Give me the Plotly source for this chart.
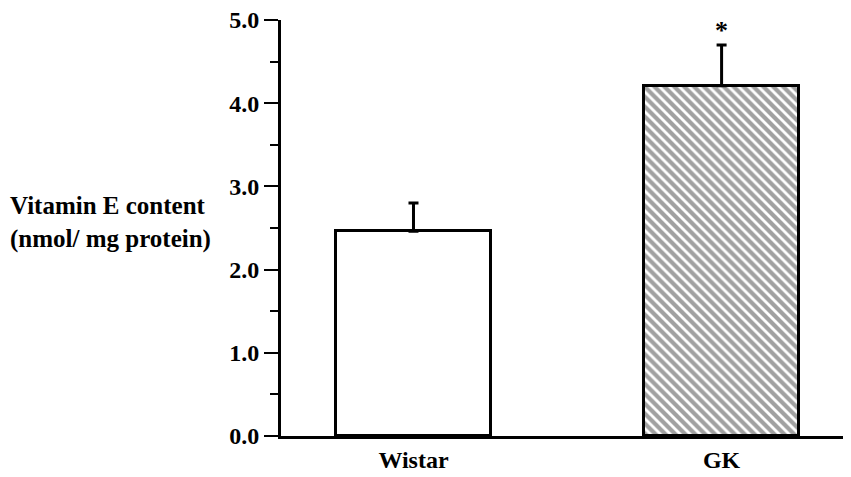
import plotly.graph_objects as go

categories = ["Wistar", "GK"]
values = [2.46, 4.21]
errors = [0.34, 0.49]
significance = ["", "*"]
ytick_vals = [0, 1, 2, 3, 4, 5]

x_pos = list(range(len(categories)))
font_family = "Liberation Serif, Times New Roman, serif"

fig = go.Figure()
fig.add_trace(go.Bar(
    x=x_pos,
    y=values,
    width=0.503,
    marker=dict(
        color=["white", "white"],
        line=dict(color="black", width=3),
        pattern=dict(shape=["", "\\"], fgcolor="black", bgcolor="white",
                     size=7, solidity=0.6),
    ),
    error_y=dict(type="data", symmetric=False, array=errors,
                 arrayminus=[0] * len(errors),
                 color="black", thickness=3, width=5),
    showlegend=False,
))

for xi, v, e, s in zip(x_pos, values, errors, significance):
    if s:
        fig.add_annotation(x=xi, y=v + e, text="<b>" + s + "</b>", showarrow=False,
                           yanchor="bottom", yshift=-2,
                           font=dict(family=font_family, size=26, color="black"))

fig.add_annotation(
    xref="paper", yref="y", x=-0.479, y=2.57, xanchor="left", yanchor="middle",
    align="left", showarrow=False,
    text="<b>Vitamin E content</b><br><b>(nmol/ mg protein)</b>",
    font=dict(family=font_family, size=25, color="black"),
)

# page body has an 8px margin, so the figure is offset by (8, 8)
fig.update_layout(
    width=843, height=469,
    margin=dict(l=273, r=0, t=12, b=41),
    paper_bgcolor="white", plot_bgcolor="white",
    font=dict(family=font_family, size=24, color="black"),
    bargap=0,
)
fig.update_xaxes(
    range=[-0.43, 1.42],
    tickvals=x_pos, ticktext=["<b>" + c + "</b>" for c in categories],
    showline=True, linecolor="black", linewidth=3,
    showgrid=False, zeroline=False, ticks="",
    tickfont=dict(family=font_family, size=24, color="black"),
)
fig.update_yaxes(
    range=[0, 5],
    tickvals=ytick_vals,
    ticktext=["<b>%.1f</b>" % t for t in ytick_vals],
    ticklabeloverflow="allow",
    showline=True, linecolor="black", linewidth=3,
    showgrid=False, zeroline=False,
    ticks="outside", ticklen=14, tickwidth=2, tickcolor="black",
    minor=dict(tickvals=[0.5, 1.5, 2.5, 3.5, 4.5], ticks="outside",
               ticklen=8, tickwidth=2, tickcolor="black"),
    tickfont=dict(family=font_family, size=24, color="black"),
)

fig.write_html("out.html")
